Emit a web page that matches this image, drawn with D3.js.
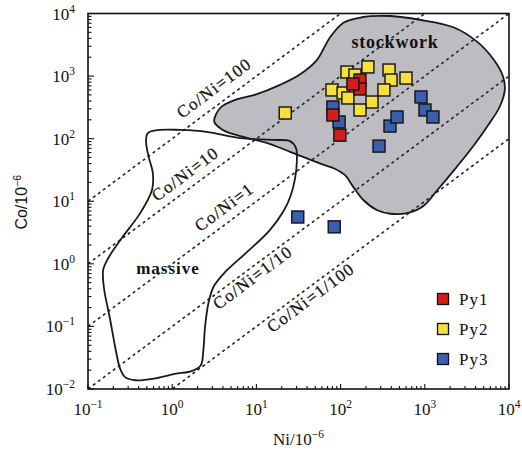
<!DOCTYPE html>
<html>
<head>
<meta charset="utf-8">
<script src="https://cdn.jsdelivr.net/npm/d3@7"></script>
<style>
  html, body { margin: 0; padding: 0; background: #fff; }
  svg { display: block; }
  .serif { font-family: "Liberation Serif", "Times New Roman", serif; fill: #111; }
  .sans { font-family: "Liberation Sans", Arial, sans-serif; fill: #111; }
</style>
</head>
<body>
<svg id="chart" width="522" height="451"></svg>
<script>
// ---- data (Ni and Co in ppm) ----
const seriesNames = ["Py1", "Py2", "Py3"];
const seriesColors = ["#d21f1b", "#f7df3c", "#3b5fae"];

const py1Ni = [170, 170, 140, 81, 98];
const py1Co = [865, 622, 747, 239, 114];

const py2Ni = [22, 119, 148, 211, 376, 397, 598, 79, 107, 122, 327, 236, 170];
const py2Co = [257, 1160, 1040, 1400, 1250, 865, 930, 600, 537, 447, 600, 385, 287];

const py3Ni = [81, 96, 286, 386, 468, 902, 1005, 1250, 31, 84];
const py3Co = [321, 185, 76, 159, 222, 464, 287, 222, 5.6, 3.9];

// reference Co/Ni ratio lines
const ratios = [100, 10, 1, 0.1, 0.01];
const ratioLabels = ["Co/Ni=100", "Co/Ni=10", "Co/Ni=1", "Co/Ni=1/10", "Co/Ni=1/100"];

// field outlines, in log10 units of (Ni, Co)
const stockworkLogNi = [0.50, 0.57, 0.75, 0.98, 1.28, 1.52, 1.72, 1.87, 2.03, 2.25, 2.59, 2.94, 3.34, 3.62, 3.82, 3.93, 3.95, 3.89, 3.77, 3.57, 3.38, 3.15, 2.98, 2.79, 2.59, 2.43, 2.27, 2.15, 2.05, 1.93, 1.76, 1.40, 1.13, 0.81, 0.60];
const stockworkLogCo = [2.27, 2.49, 2.62, 2.70, 2.86, 3.03, 3.26, 3.61, 3.85, 3.94, 3.96, 3.90, 3.78, 3.55, 3.26, 2.99, 2.78, 2.51, 2.25, 1.87, 1.55, 1.18, 0.92, 0.81, 0.80, 0.86, 1.02, 1.23, 1.42, 1.52, 1.60, 1.79, 1.93, 2.04, 2.14];

const massiveLogNi = [-0.29, -0.15, 0.09, 0.41, 0.81, 1.20, 1.40, 1.47, 1.48, 1.46, 1.41, 1.33, 1.16, 0.89, 0.63, 0.49, 0.43, 0.39, 0.37, 0.34, 0.24, 0.03, -0.20, -0.44, -0.56, -0.62, -0.67, -0.74, -0.81, -0.82, -0.76, -0.60, -0.38, -0.24, -0.23, -0.28, -0.31];
const massiveLogCo = [2.09, 2.14, 2.14, 2.11, 2.01, 1.98, 1.96, 1.85, 1.63, 1.37, 1.10, 0.86, 0.54, 0.19, -0.13, -0.37, -0.63, -1.01, -1.38, -1.62, -1.71, -1.76, -1.83, -1.86, -1.81, -1.67, -1.38, -0.87, -0.39, -0.10, 0.09, 0.41, 0.81, 1.18, 1.45, 1.71, 1.95];

// axis tick exponents
const niExponents = [-1, 0, 1, 2, 3, 4];
const coExponents = [-2, -1, 0, 1, 2, 3, 4];

// ---- layout ----
const svg = d3.select("#chart");
const plot = { left: 88, right: 509, top: 13.5, bottom: 389 };

const x = d3.scaleLog().domain([0.1, 1e4]).range([plot.left, plot.right]);
const y = d3.scaleLog().domain([0.01, 1e4]).range([plot.bottom, plot.top]);

svg.append("defs").append("clipPath").attr("id", "plotClip")
  .append("rect")
  .attr("x", plot.left).attr("y", plot.top)
  .attr("width", plot.right - plot.left).attr("height", plot.bottom - plot.top);

const outline = d3.line().curve(d3.curveCatmullRomClosed.alpha(0.5));
const toPts = (lx, ly) => lx.map((v, i) => [x(Math.pow(10, v)), y(Math.pow(10, ly[i]))]);

const inner = svg.append("g").attr("clip-path", "url(#plotClip)");

// stockwork field (filled)
inner.append("path")
  .attr("d", outline(toPts(stockworkLogNi, stockworkLogCo)))
  .attr("fill", "#bcbcc2")
  .attr("stroke", "none");

// ratio lines
ratios.forEach(r => {
  inner.append("line")
    .attr("x1", x(0.1)).attr("y1", y(0.1 * r))
    .attr("x2", x(1e4)).attr("y2", y(1e4 * r))
    .attr("stroke", "#262626")
    .attr("stroke-width", 1.6)
    .attr("stroke-dasharray", "3,3.2");
});

// field outlines
inner.append("path")
  .attr("d", outline(toPts(stockworkLogNi, stockworkLogCo)))
  .attr("fill", "none").attr("stroke", "#1a1a1a").attr("stroke-width", 1.8);
inner.append("path")
  .attr("d", outline(toPts(massiveLogNi, massiveLogCo)))
  .attr("fill", "none").attr("stroke", "#1a1a1a").attr("stroke-width", 1.8);

// field names
svg.append("text").attr("class", "serif")
  .attr("x", 395).attr("y", 48)
  .attr("text-anchor", "middle")
  .attr("font-size", 18).attr("font-weight", "bold").attr("letter-spacing", 0.8)
  .text("stockwork");
svg.append("text").attr("class", "serif")
  .attr("x", 168).attr("y", 274)
  .attr("text-anchor", "middle")
  .attr("font-size", 17).attr("font-weight", "bold").attr("letter-spacing", 1)
  .text("massive");

// ratio line labels, placed along each line
const angle = Math.atan2(y(1) - y(10), x(10) - x(1)) * 180 / Math.PI;
const labelAt = [1.54, 0.76, 2.47, 2.78, 12.1];     // Ni where each label starts
const labelOffset = [10, 8.5, 8.8, -14.5, -15];     // px above (+) / below (-) the line
ratios.forEach((r, i) => {
  const ni = labelAt[i];
  svg.append("text").attr("class", "serif")
    .attr("transform", `translate(${x(ni)},${y(ni * r)}) rotate(${-angle})`)
    .attr("x", 0).attr("y", -labelOffset[i])
    .attr("font-size", 17).attr("letter-spacing", 1.3)
    .attr("stroke", "#111").attr("stroke-width", 0.25)
    .text(ratioLabels[i]);
});

// data points
const series = [
  { ni: py3Ni, co: py3Co, color: seriesColors[2] },
  { ni: py2Ni, co: py2Co, color: seriesColors[1] },
  { ni: py1Ni, co: py1Co, color: seriesColors[0] }
];
const ms = 12;
series.forEach(s => {
  svg.append("g").selectAll("rect")
    .data(s.ni.map((v, i) => [v, s.co[i]]))
    .join("rect")
    .attr("x", d => x(d[0]) - ms / 2)
    .attr("y", d => y(d[1]) - ms / 2)
    .attr("width", ms).attr("height", ms)
    .attr("fill", s.color)
    .attr("stroke", "#111").attr("stroke-width", 1.4);
});

// axes: inward major + minor ticks
const minorVals = (lo, hi) => {
  const out = [];
  for (let e = lo; e < hi; e++) for (let m = 1; m <= 9; m++) out.push(m * Math.pow(10, e));
  out.push(Math.pow(10, hi));
  return out;
};
const isMajor = v => Math.abs(Math.log10(v) - Math.round(Math.log10(v))) < 1e-9;
const xMinor = minorVals(-1, 4);
const yMinor = minorVals(-2, 4);

const axisG = svg.append("g").attr("stroke", "#111");
xMinor.forEach(v => {
  axisG.append("line")
    .attr("x1", x(v)).attr("x2", x(v))
    .attr("y1", plot.bottom).attr("y2", plot.bottom - (isMajor(v) ? 5 : 3))
    .attr("stroke-width", 1.1);
});
yMinor.forEach(v => {
  axisG.append("line")
    .attr("y1", y(v)).attr("y2", y(v))
    .attr("x1", plot.left).attr("x2", plot.left + (isMajor(v) ? 6 : 3.5))
    .attr("stroke-width", 1.1);
});

// frame
svg.append("rect")
  .attr("x", plot.left).attr("y", plot.top)
  .attr("width", plot.right - plot.left).attr("height", plot.bottom - plot.top)
  .attr("fill", "none").attr("stroke", "#111").attr("stroke-width", 1.6);

// tick labels with superscript exponents
const expText = e => (e < 0 ? "\u2212" + Math.abs(e) : String(e));
niExponents.forEach(e => {
  const t = svg.append("text").attr("class", "serif")
    .attr("x", x(Math.pow(10, e))).attr("y", 415)
    .attr("text-anchor", "middle").attr("font-size", 17);
  t.append("tspan").text("10");
  t.append("tspan").attr("dy", -7).attr("font-size", 11.5).text(expText(e));
});
coExponents.forEach(e => {
  const t = svg.append("text").attr("class", "serif")
    .attr("x", 75).attr("y", y(Math.pow(10, e)) + 6)
    .attr("text-anchor", "end").attr("font-size", 17);
  t.append("tspan").text("10");
  t.append("tspan").attr("dy", -7).attr("font-size", 11.5).text(expText(e));
});

// axis titles
const xt = svg.append("text").attr("class", "serif")
  .attr("x", (plot.left + plot.right) / 2).attr("y", 445)
  .attr("text-anchor", "middle").attr("font-size", 17);
xt.append("tspan").text("Ni/10");
xt.append("tspan").attr("dy", -7).attr("font-size", 11.5).text("\u22126");

const yt = svg.append("text").attr("class", "sans")
  .attr("transform", `translate(27,${(plot.top + plot.bottom) / 2 + 1}) rotate(-90)`)
  .attr("text-anchor", "middle").attr("font-size", 16);
yt.append("tspan").text("Co/10");
yt.append("tspan").attr("dy", -6).attr("font-size", 10.5).text("\u22126");

// legend
const legendY = [299, 329, 359];
seriesNames.forEach((name, i) => {
  svg.append("rect")
    .attr("x", 443 - 5.5).attr("y", legendY[i] - 5.5)
    .attr("width", 11).attr("height", 11)
    .attr("fill", seriesColors[i]).attr("stroke", "#111").attr("stroke-width", 1.3);
  svg.append("text").attr("class", "serif")
    .attr("x", 459).attr("y", legendY[i] + 6)
    .attr("font-size", 17).attr("letter-spacing", 1)
    .text(name);
});
</script>
</body>
</html>
